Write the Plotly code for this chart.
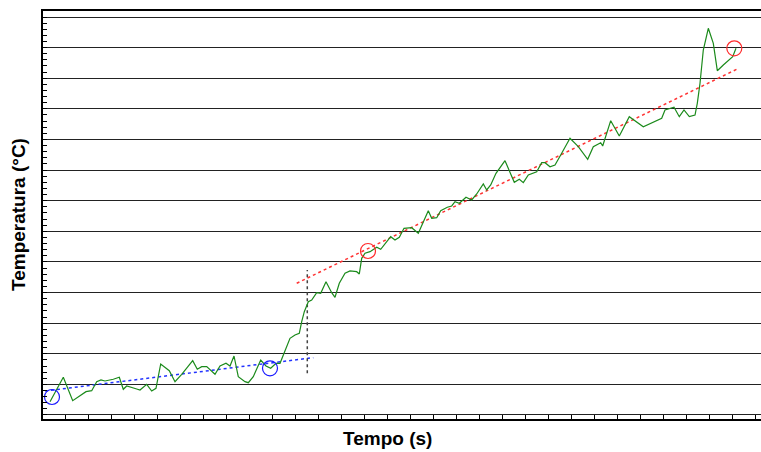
import plotly.graph_objects as go

# ---- data (time in s, temperature in °C) ----
tempo = [3.05, 8.84, 12.93, 15.37, 18.72, 21.20, 23.38, 25.25, 26.99, 30.61,
         33.22, 34.96, 36.44, 40.79, 42.23, 45.15, 47.32, 49.19, 51.24, 54.98,
         57.47, 60.38, 65.17, 67.17, 69.09, 71.27, 74.88, 77.06, 79.67, 81.41,
         83.15, 85.02, 87.94, 89.38, 91.55, 94.78, 97.08, 99.13, 101.44, 103.18,
         105.35, 107.53, 109.71, 111.58, 112.63, 113.76, 115.50, 116.98, 119.16, 120.90,
         123.20, 125.69, 127.12, 128.99, 131.48, 133.65, 136.57, 137.70, 138.74, 140.18,
         142.36, 145.28, 147.02, 148.89, 151.37, 153.24, 155.12, 157.16, 160.51, 163.39,
         165.30, 167.74, 169.22, 171.40, 173.14, 176.01, 177.93, 179.36, 181.24, 184.15,
         186.63, 188.81, 191.69, 193.16, 194.91, 197.21, 201.13, 203.00, 205.18, 207.36,
         209.10, 211.28, 214.93, 217.11, 218.55, 220.72, 222.90, 225.38, 229.43, 233.04,
         237.13, 239.57, 242.79, 243.66, 245.10, 247.15, 250.89, 255.24, 261.34, 269.35,
         270.79, 274.71, 277.01, 279.06, 281.37, 283.85, 284.85, 286.03, 287.46, 289.64,
         291.82, 293.56, 296.17, 300.26, 301.70]
temperatura = [20.434, 21.231, 20.467, 20.598, 20.761, 20.794, 21.088, 21.143, 21.111, 21.166,
               21.231, 20.839, 20.947, 20.849, 20.817, 21.003, 20.784, 20.872, 21.666, 21.447,
               21.088, 21.329, 21.774, 21.493, 21.578, 21.578, 21.329, 21.601, 21.689, 21.601,
               21.927, 21.251, 21.088, 21.055, 21.251, 21.797, 21.601, 21.525, 21.689, 21.689,
               22.068, 22.505, 22.613, 22.669, 23.048, 23.374, 23.701, 23.757, 23.995, 23.975,
               24.354, 23.995, 23.845, 24.302, 24.629, 24.704, 24.681, 24.606, 25.118, 25.282,
               25.334, 25.478, 25.412, 25.586, 25.824, 25.716, 25.804, 26.098, 26.118, 25.935,
               26.262, 26.673, 26.425, 26.445, 26.673, 26.784, 26.827, 26.967, 26.915, 27.111,
               27.023, 27.219, 27.545, 27.350, 27.513, 27.895, 28.307, 28.003, 27.601, 27.699,
               27.588, 27.839, 27.947, 28.241, 28.241, 28.110, 28.166, 28.493, 29.038, 28.764,
               28.352, 28.764, 28.894, 28.787, 29.146, 29.613, 29.113, 29.744, 29.417, 29.691,
               29.963, 30.051, 29.744, 29.963, 29.744, 29.799, 30.181, 30.835, 31.922, 32.631,
               32.141, 31.246, 31.432, 31.704, 31.978]

# fitted lines (before / after the step)
fit_pre_t = [0.87, 117.67]
fit_pre_T = [20.784, 21.872]
fit_post_t = [110.45, 302.00]
fit_post_T = [24.302, 31.292]

# step marker (vertical)
step_t = [115.06, 115.06]
step_T = [21.362, 24.736]

# selected points
sel_pre_t = [3.92, 98.82]
sel_pre_T = [20.588, 21.525]
sel_post_t = [141.49, 300.96]
sel_post_T = [25.357, 31.978]

x_range = [0, 312.58]
y_range = [19.869, 33.196]

fig = go.Figure()
fig.add_trace(go.Scatter(x=fit_pre_t, y=fit_pre_T, mode="lines",
                         line=dict(color="#2233ff", width=1.5, dash="3px,3px"),
                         hoverinfo="skip"))
fig.add_trace(go.Scatter(x=fit_post_t, y=fit_post_T, mode="lines",
                         line=dict(color="#ff3333", width=1.5, dash="3px,3px"),
                         hoverinfo="skip"))
fig.add_trace(go.Scatter(x=step_t, y=step_T, mode="lines",
                         line=dict(color="#444444", width=1.5, dash="3px,3px"),
                         hoverinfo="skip"))
fig.add_trace(go.Scatter(x=tempo, y=temperatura, mode="lines",
                         line=dict(color="#1b8a1b", width=1.2)))
fig.add_trace(go.Scatter(x=sel_pre_t, y=sel_pre_T, mode="markers",
                         marker=dict(symbol="circle-open", size=15, color="#1a1aff",
                                     line=dict(width=1.2))))
fig.add_trace(go.Scatter(x=sel_post_t, y=sel_post_T, mode="markers",
                         marker=dict(symbol="circle-open", size=15, color="#ff2a2a",
                                     line=dict(width=1.2))))

fig.update_layout(
    width=761, height=452,
    margin=dict(l=43, r=0, t=11, b=33),
    paper_bgcolor="white", plot_bgcolor="white",
    showlegend=False,
    font=dict(family="Liberation Sans, Arial, sans-serif", color="black"),
    xaxis=dict(range=x_range, showgrid=False, zeroline=False,
               showline=True, linecolor="black", linewidth=2, mirror=True,
               ticks="inside", ticklen=4, tickwidth=1, tickcolor="black",
               tick0=0, dtick=10, showticklabels=False),
    yaxis=dict(range=y_range, showgrid=True, gridcolor="#222222", gridwidth=1.3,
               zeroline=False, showline=True, linecolor="black", linewidth=2,
               ticks="inside", ticklen=4, tickwidth=1, tickcolor="black",
               tick0=20, dtick=1, showticklabels=False,
               minor=dict(ticks="inside", ticklen=4, tickwidth=1, tickcolor="black",
                          dtick=0.2, showgrid=False)),
    annotations=[
        dict(text="<b>Tempo (s)</b>", xref="paper", yref="paper",
             x=0.4805, y=-0.049, xanchor="center", yanchor="middle",
             showarrow=False, font=dict(size=19)),
        dict(text="<b>Temperatura (°C)</b>", xref="paper", yref="paper",
             x=-0.0348, y=0.5, xanchor="center", yanchor="middle",
             textangle=-90, showarrow=False, font=dict(size=19)),
    ],
)

post = ("document.body.style.margin='0';document.body.style.padding='0';"
        "document.body.style.overflow='hidden';"
        "var gd=document.getElementById('{plot_id}');"
        "Plotly.relayout(gd,{width:761,height:452});")

fig.write_html("out.html",
               config={"responsive": False, "displayModeBar": False},
               post_script=post)
